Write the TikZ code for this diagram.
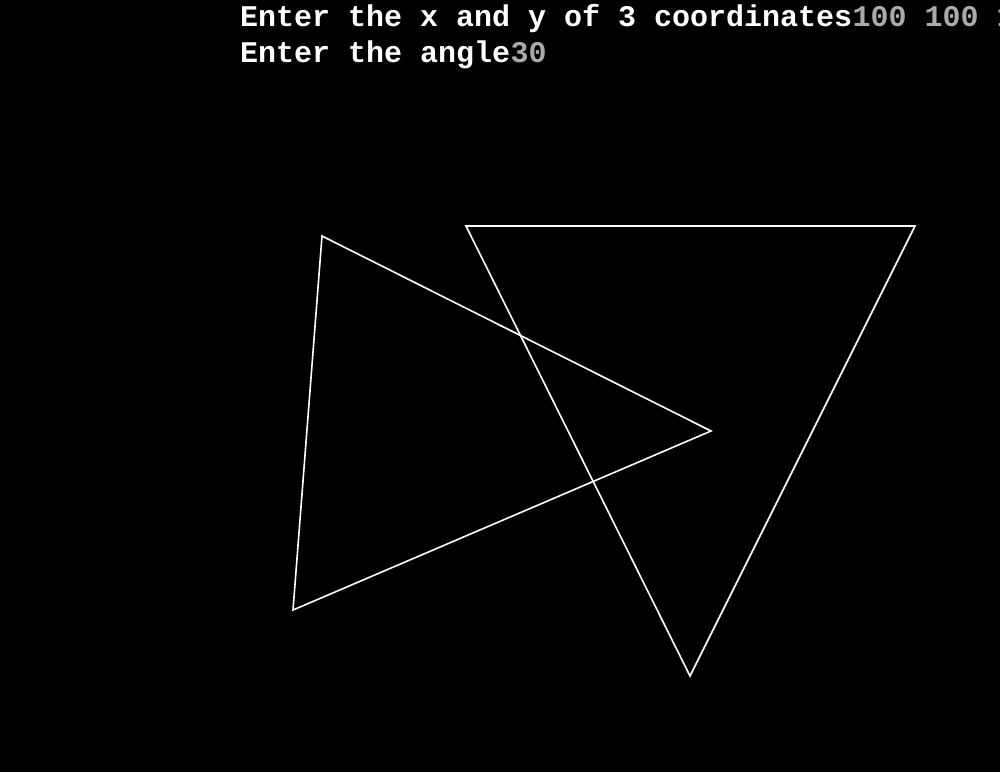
\documentclass[tikz,border=0pt]{standalone}
\usepackage{fontspec}
\newfontfamily\consolefont{Liberation Mono}
\definecolor{inputgray}{RGB}{170,170,170}
\tikzset{
  tri/.style={draw=white, line width=1.6pt, line join=miter},
  prompt/.style={anchor=base west, inner sep=0pt, text=white, font=\consolefont\bfseries\fontsize{30}{30}\selectfont},
  echo/.style={anchor=base west, inner sep=0pt, text=inputgray, font=\consolefont\bfseries\fontsize{30}{30}\selectfont}
}
\begin{document}
\begin{tikzpicture}[x=1pt,y=-1pt]
\fill[black] (0,0) rectangle (1000,772);
\useasboundingbox (0,0) rectangle (1000,772);
\clip (0,0) rectangle (1000,772);
% console text
\node[prompt] (p1) at (240,26) {Enter the x and y of 3 coordinates};
\node[echo] (e1) at (p1.base east) {100 100 1};
\node[prompt] (p2) at (240,62) {Enter the angle};
\node[echo] (e2) at (p2.base east) {30};
% original triangle
\coordinate (a1) at (466,226);
\coordinate (a2) at (915,226);
\coordinate (a3) at (690,676);
\draw[tri] (a1) -- (a2) -- (a3) -- cycle;
% rotated triangle
\coordinate (b1) at (322,236);
\coordinate (b2) at (711,431);
\coordinate (b3) at (293,610);
\draw[tri] (b1) -- (b2) -- (b3) -- cycle;
\end{tikzpicture}
\end{document}
